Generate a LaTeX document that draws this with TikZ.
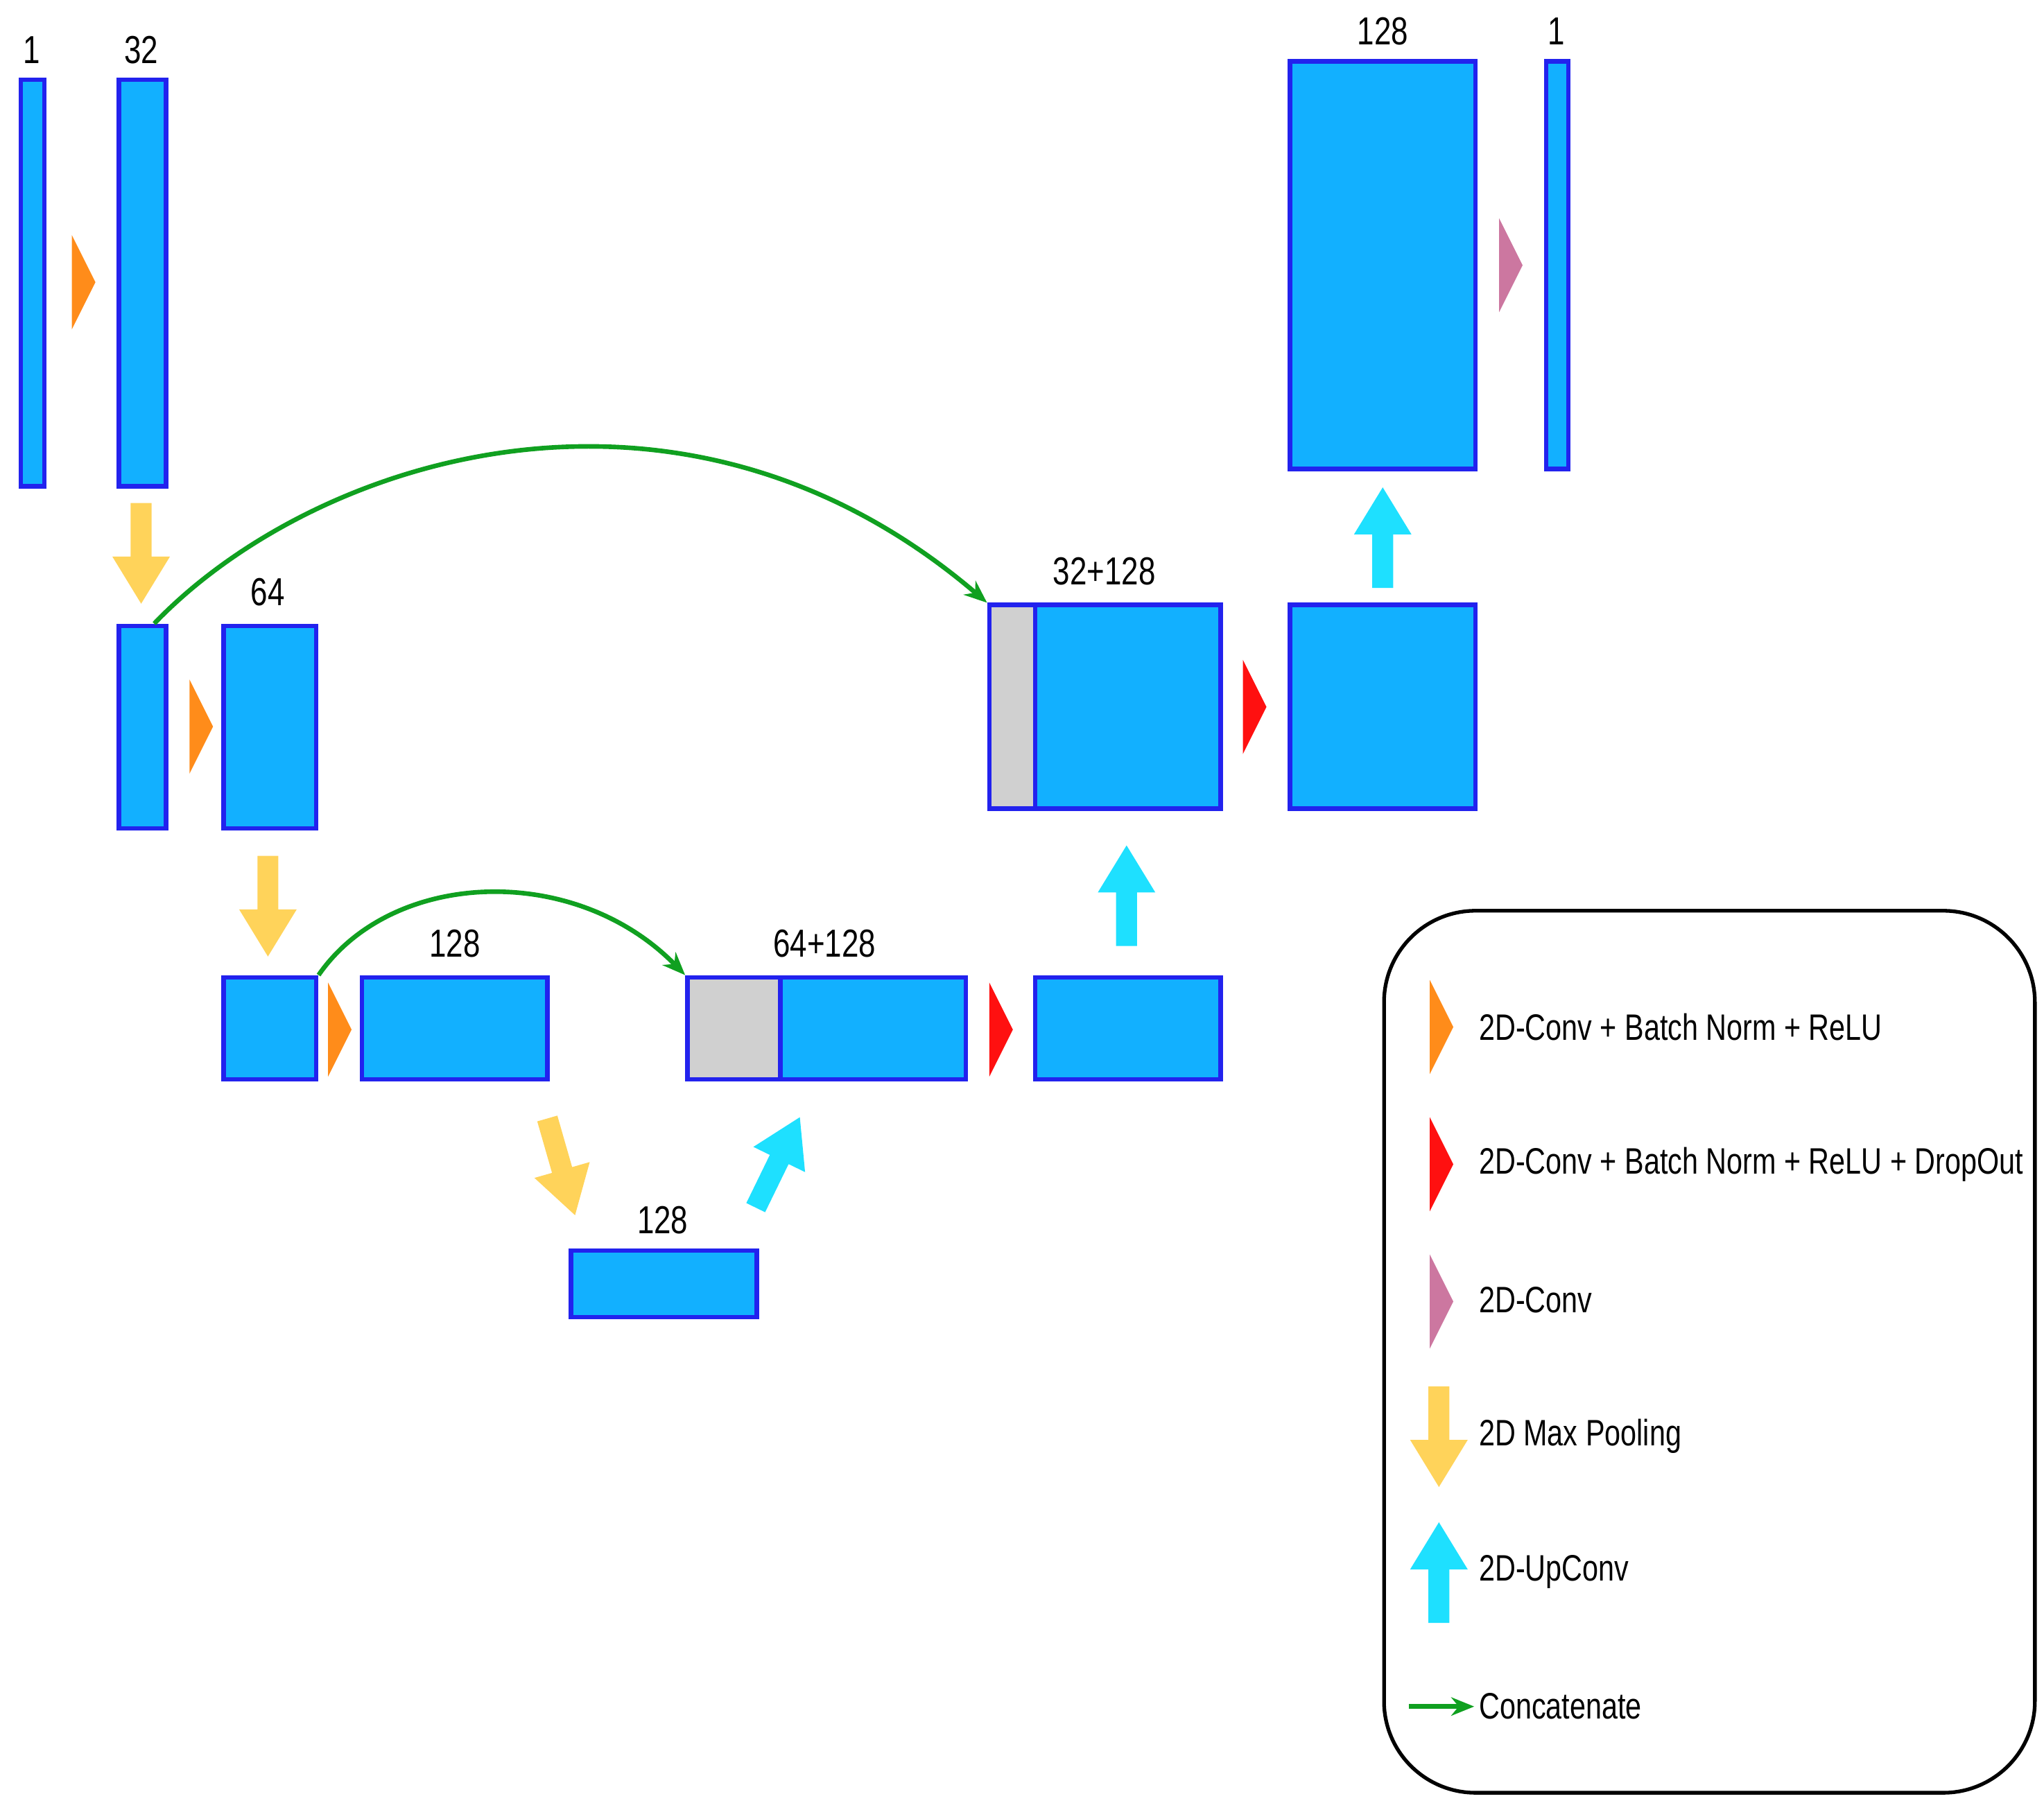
\documentclass[tikz,border=0pt]{standalone}
\usepackage{fontspec}
\setmainfont{Liberation Sans}[FakeStretch=0.78]
\usetikzlibrary{fit,arrows.meta}
\definecolor{bfill}{HTML}{12B0FF}
\definecolor{bline}{HTML}{2222EE}
\definecolor{gfill}{HTML}{D0D0D0}
\definecolor{orng}{HTML}{FF8C1A}
\definecolor{rd}{HTML}{FF1010}
\definecolor{pnk}{HTML}{CC77A0}
\definecolor{ylw}{HTML}{FFD35A}
\definecolor{cyn}{HTML}{1EE0FF}
\definecolor{grn}{HTML}{10A020}
\begin{document}
\begin{tikzpicture}[x=0.01cm,y=-0.01cm,
  box/.style={draw=bline,line width=1pt,fill=bfill,inner sep=0pt},
  gbox/.style={draw=bline,line width=1pt,fill=gfill,inner sep=0pt},
  lab/.style={font=\fontsize{8.5}{10}\selectfont},
  leg/.style={font=\fontsize{8}{10}\selectfont,anchor=west,inner sep=0pt},
  conn/.style={draw=grn,line width=1pt,-{Stealth[length=5pt,width=4pt]}},
  tri/.pic={\fill[pic actions] (0,-36) -- (18,0) -- (0,36) -- cycle;},
  barrow/.pic={\fill[pic actions] (0,0) -- (22,-36) -- (8,-36) -- (8,-77) -- (-8,-77) -- (-8,-36) -- (-22,-36) -- cycle;}
]
\useasboundingbox (0,0) rectangle (1564,1385);
% boxes
\node[box,fit={(16,61)(34,372)}] (b1) {};
\node[box,fit={(91,61)(127,372)}] (b2) {};
\node[box,fit={(91,479)(127,634)}] (b3) {};
\node[box,fit={(171,479)(242,634)}] (b4) {};
\node[box,fit={(171,748)(242,826)}] (b5) {};
\node[box,fit={(277,748)(419,826)}] (b6) {};
\node[box,fit={(437,957)(579,1008)}] (b7) {};
\node[gbox,fit={(526,748)(597,826)}] (b8g) {};
\node[box,fit={(597,748)(739,826)}] (b8) {};
\node[box,fit={(792,748)(934,826)}] (b9) {};
\node[gbox,fit={(757,463)(792,619)}] (b10g) {};
\node[box,fit={(792,463)(934,619)}] (b10) {};
\node[box,fit={(987,463)(1129,619)}] (b11) {};
\node[box,fit={(987,47)(1129,359)}] (b12) {};
\node[box,fit={(1183,47)(1200,359)}] (b13) {};
% labels
\node[lab] (l1) at (24,38) {1};
\node[lab] (l2) at (108,38) {32};
\node[lab] (l3) at (205,453) {64};
\node[lab] (l4) at (348,722) {128};
\node[lab] (l5) at (507,934) {128};
\node[lab] (l6) at (631,722) {64+128};
\node[lab] (l7) at (845,437) {32+128};
\node[lab] (l8) at (1058,24) {128};
\node[lab] (l9) at (1191,24) {1};
% triangles
\pic[fill=orng] at (55,216) {tri};
\pic[fill=orng] at (145,556) {tri};
\pic[fill=orng] at (251,788) {tri};
\pic[fill=rd] at (757,788) {tri};
\pic[fill=rd] at (951,541) {tri};
\pic[fill=pnk] at (1147,203) {tri};
% block arrows
\pic[fill=ylw] at (108,462) {barrow};
\pic[fill=ylw] at (205,732) {barrow};
\pic[fill=ylw,rotate=16] at (440,930) {barrow};
\pic[fill=cyn,rotate=180] at (862,647) {barrow};
\pic[fill=cyn,rotate=180] at (1058,373) {barrow};
\pic[fill=cyn,rotate=154] at (612,855) {barrow};
% concatenations
\draw[conn] ([xshift=0.09cm]b3.north) .. controls (240,350) and (520,260) .. (b10g.north west);
\draw[conn] (b5.north east) .. controls (300,665) and (440,660) .. (b8g.north west);
% legend
\node[draw=black,line width=0.8pt,rounded corners=0.7cm,fit={(1059,697)(1557,1372)},inner sep=0pt] (legend) {};
\pic[fill=orng] at (1094,786) {tri};
\pic[fill=rd] at (1094,891) {tri};
\pic[fill=pnk] at (1094,996) {tri};
\pic[fill=ylw] at (1101,1138) {barrow};
\pic[fill=cyn,rotate=180] at (1101,1165) {barrow};
\coordinate (cs) at (1078,1306);
\coordinate (ce) at (1128,1306);
\draw[conn] (cs) -- (ce);
\node[leg] (t1) at (1131,786) {2D-Conv + Batch Norm + ReLU};
\node[leg] (t2) at (1131,891) {2D-Conv + Batch Norm + ReLU + DropOut};
\node[leg] (t3) at (1131,995) {2D-Conv};
\node[leg] (t4) at (1131,1099) {2D Max Pooling};
\node[leg] (t5) at (1131,1203) {2D-UpConv};
\node[leg] (t6) at (1131,1306) {Concatenate};
\end{tikzpicture}
\end{document}
